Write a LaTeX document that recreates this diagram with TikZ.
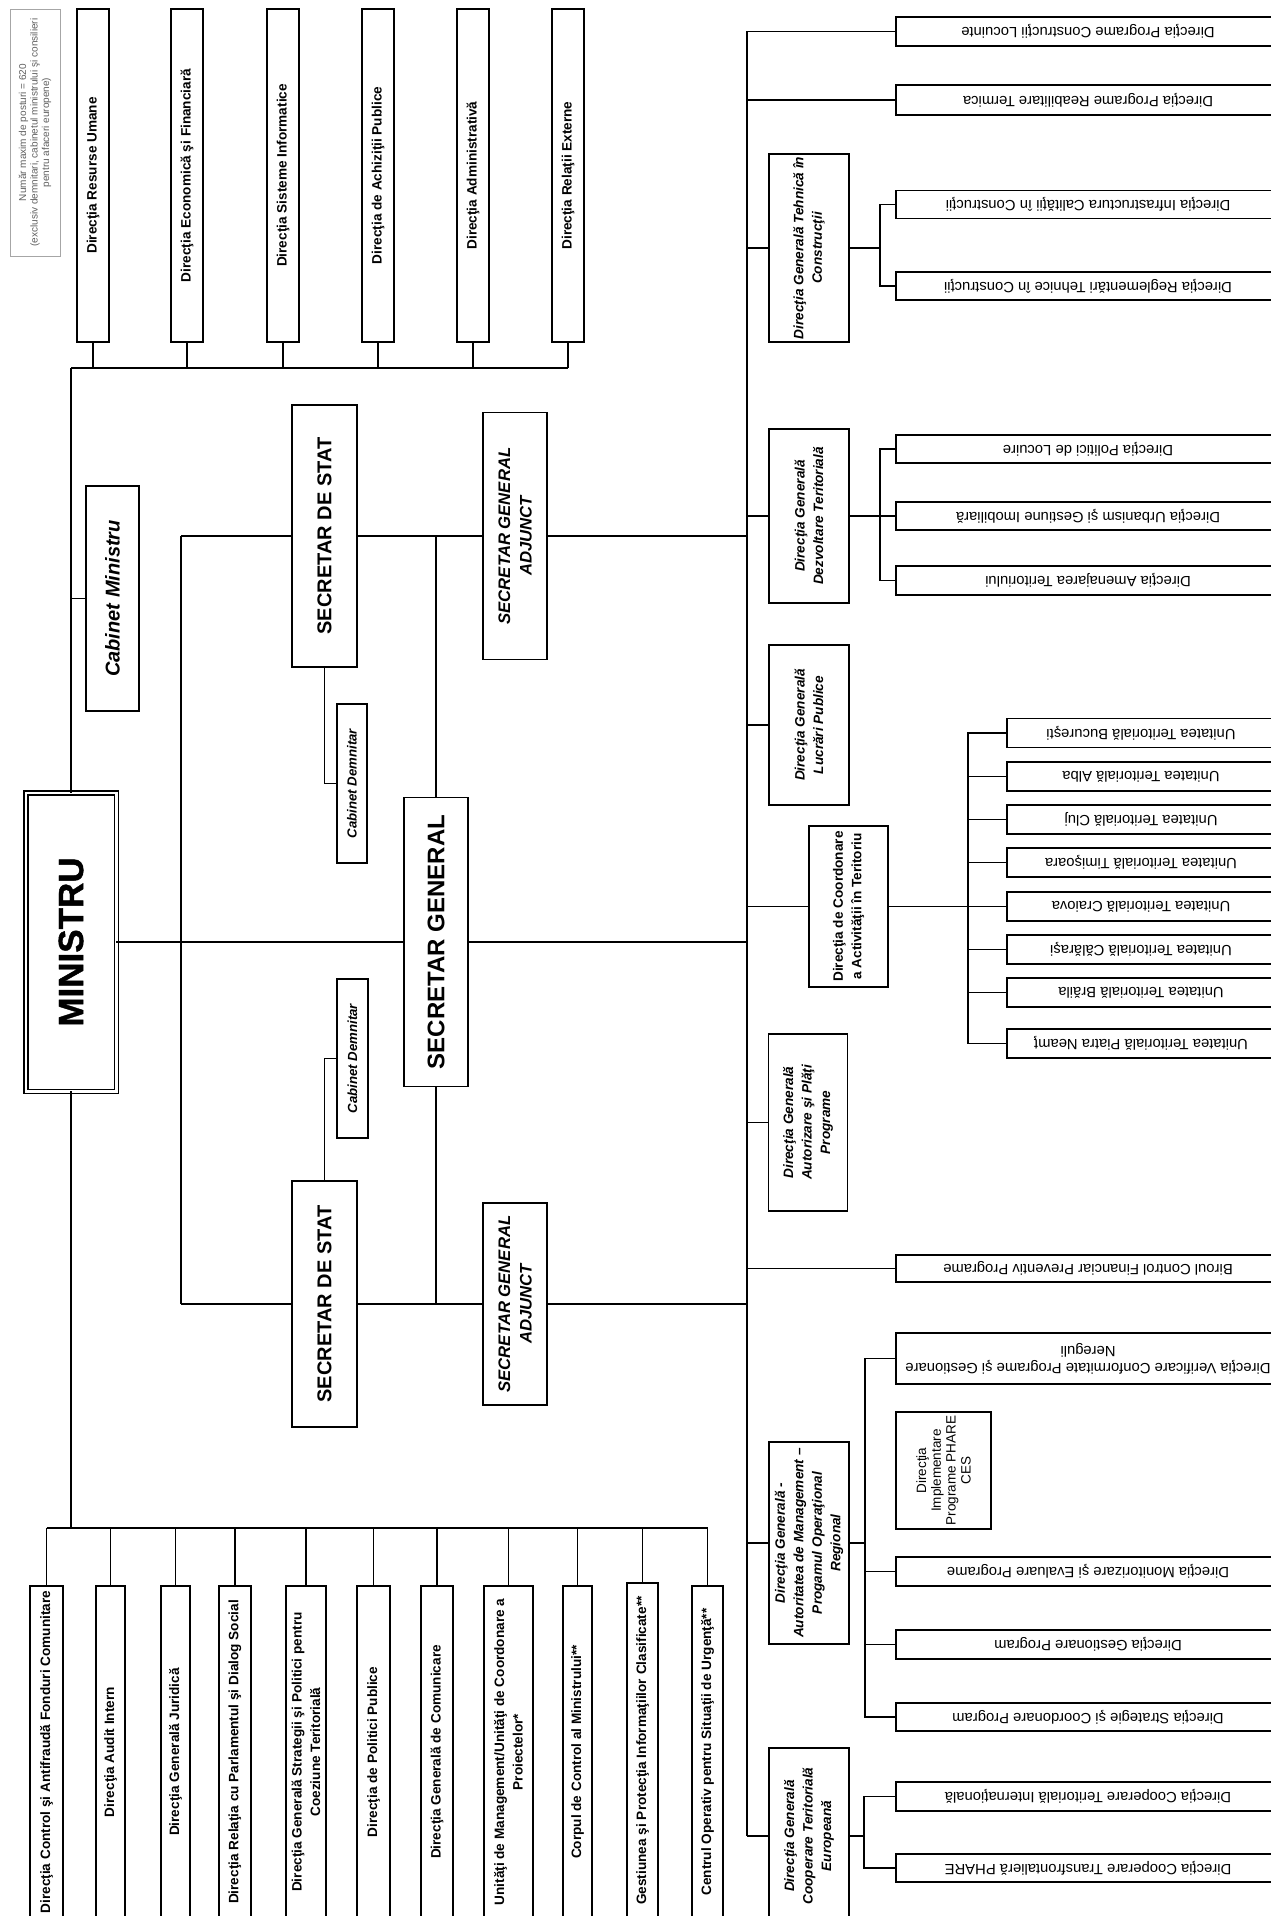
\documentclass[tikz,border=0pt]{standalone}
\usepackage{fontspec}
\setmainfont{Liberation Sans}
\newfontfamily\heavyfont{Liberation Sans}[BoldFeatures={FakeBold=1.2}]
\newcommand\bx[7]{\node[box,minimum width=#4pt,minimum height=#5pt] (#1) at (#2,#3) {};\node[#6] at (#1.center) {#7};}
\begin{document}
\begin{tikzpicture}[x=1pt,y=-1pt,
  box/.style={draw, line width=1.8pt, inner sep=0pt, outer sep=0pt, fill=white},
  ln/.style={line width=1.8pt},
  vt/.style={rotate=90, align=center, inner sep=0pt},
  ut/.style={rotate=180, align=center, inner sep=0pt},
  fb/.style={font=\fontsize{13.6}{18.5}\selectfont\bfseries},
  fbi/.style={font=\fontsize{13.6}{18.5}\selectfont\bfseries\itshape},
  fr/.style={font=\fontsize{14.8}{16.7}\selectfont},
  fsds/.style={font=\fontsize{20}{24}\selectfont\bfseries},
  fsga/.style={font=\fontsize{16.7}{21.5}\selectfont\bfseries\itshape},
  fcd/.style={font=\fontsize{13.2}{15}\selectfont\bfseries\itshape},
]
\fill[white] (0,0) rectangle (1271,1916);
\useasboundingbox (0,0) rectangle (1271,1916);
\clip (0,0) rectangle (1271,1916);

% note
\node[draw=gray!70, line width=0.8pt, minimum width=50pt, minimum height=247pt, inner sep=0pt] (note) at (35,132.5) {};
\node[vt, font=\fontsize{10}{11.5}\selectfont, text=gray!75!black] at (note.center) {Număr maxim de posturi = 620\\(exclusiv demnitari, cabinetul ministrului şi consilieri\\pentru afaceri europene)};

% top row
\bx{t1}{93}{175.5}{32}{333}{vt,fb}{Direcţia Resurse Umane}
\bx{t2}{187}{175.5}{32}{333}{vt,fb}{Direcţia Economică şi Financiară}
\bx{t3}{283}{175.5}{32}{333}{vt,fb}{Direcţia Sisteme Informatice}
\bx{t4}{378}{175.5}{32}{333}{vt,fb}{Direcţia de Achiziţii Publice}
\bx{t5}{473}{175.5}{32}{333}{vt,fb}{Direcţia Administrativă}
\bx{t6}{568}{175.5}{32}{333}{vt,fb}{Direcţia Relaţii Externe}
\coordinate (tb) at (71,368);
\draw[ln] (tb) -- (t6.south |- tb);
\foreach \n in {t1,t2,t3,t4,t5,t6} \draw[ln] (\n.south) -- (\n.south |- tb);

% minister
\node[draw, double, double distance=2.5pt, line width=1.5pt, inner sep=0pt, outer sep=0pt, minimum width=90.5pt, minimum height=298.5pt, fill=white] (min) at (71,942) {};
\node[vt, font=\fontsize{35}{40}\selectfont\heavyfont\bfseries] at (min.center) {MINISTRU};
\coordinate (bb) at (71,1528);
\draw[ln] (tb) -- (min.north);
\draw[ln] (min.south) -- (bb);

\bx{cm}{112.5}{598.5}{53}{225}{vt,font=\fontsize{20}{24}\selectfont\bfseries\itshape}{Cabinet Ministru}
\draw[ln] (cm.west -| tb) -- (cm.west);

% secretary general
\bx{sg}{436}{942}{64}{289}{vt,font=\fontsize{24}{28}\selectfont\bfseries}{SECRETAR GENERAL}
\coordinate (rvT) at (747,31.5);
\coordinate (rvB) at (747,1836);
\draw[ln] (min.east) -- (sg.west);
\draw[ln] (sg.east) -- (sg.east -| rvT);

% upper branch
\bx{sds1}{324.5}{536}{65}{262}{vt,fsds}{SECRETAR DE STAT}
\bx{sga1}{515}{536}{64}{247}{vt,fsga}{SECRETAR GENERAL\\ADJUNCT}
\bx{cd1}{352}{783.5}{30}{159}{vt,fcd}{Cabinet Demnitar}
\coordinate (ul) at (181,536);
\coordinate (ll) at (181,1304);
\draw[ln] (ul) -- (sds1.west);
\draw[ln] (sds1.east) -- (sga1.west);
\draw[ln] (sga1.east) -- (sga1.east -| rvT);
\draw[ln] (ul) -- (ll);
\draw[ln] (sg.north) -- (sg.north |- ul);
\draw[ln] (sds1.south) |- (cd1.west);

% lower branch
\bx{sds2}{324.5}{1304}{65}{246}{vt,fsds}{SECRETAR DE STAT}
\bx{sga2}{515}{1304}{64}{202}{vt,fsga}{SECRETAR GENERAL\\ADJUNCT}
\bx{cd2}{352.5}{1058.5}{31}{159}{vt,fcd}{Cabinet Demnitar}
\draw[ln] (ll) -- (sds2.west);
\draw[ln] (sds2.east) -- (sga2.west);
\draw[ln] (sga2.east) -- (sga2.east -| rvT);
\draw[ln] (sg.south) -- (sg.south |- ll);
\draw[ln] (sds2.north) |- (cd2.west);

% right column
\draw[ln] (rvT) -- (rvB);
\bx{rb1}{1088}{31.5}{384}{29.5}{ut,fr}{Direcţia Programe Construcţii Locuinte}
\bx{rb2}{1088}{100}{384}{29.5}{ut,fr}{Direcţia Programe Reabilitare Termica}
\draw[ln] (rvT) -- (rb1.west);
\draw[ln] (rb2.west -| rvT) -- (rb2.west);

\bx{dgt}{809}{248}{80}{188}{vt,fbi}{Direcţia Generală Tehnică în\\Construcţii}
\bx{ri}{1088}{204.5}{384}{28}{ut,fr}{Direcţia Infrastructura Calităţii în Construcţii}
\bx{rr}{1088}{286}{384}{28}{ut,fr}{Direcţia Reglementări Tehnice în Construcţii}
\coordinate (bt) at (880,248);
\draw[ln] (dgt.west -| rvT) -- (dgt.west);
\draw[ln] (dgt.east) -- (bt);
\draw[ln] (ri.west) -| (bt) |- (rr.west);

\bx{dgd}{809}{516}{80}{174}{vt,fbi}{Direcţia Generală\\Dezvoltare Teritorială}
\bx{rp}{1088}{449}{384}{28.5}{ut,fr}{Direcţia Politici de Locuire}
\bx{ru}{1088}{516}{384}{28.5}{ut,fr}{Direcţia Urbanism şi Gestiune Imobiliară}
\bx{ra}{1088}{580.5}{384}{28.5}{ut,fr}{Direcţia Amenajarea Teritoriului}
\coordinate (bd) at (880,516);
\draw[ln] (dgd.west -| rvT) -- (dgd.west);
\draw[ln] (dgd.east) -- (ru.west);
\draw[ln] (rp.west) -| (bd) |- (ra.west);

\bx{dgl}{809}{725}{80}{160}{vt,fbi}{Direcţia Generală\\Lucrări Publice}
\draw[ln] (dgl.west -| rvT) -- (dgl.west);

\bx{dcat}{848.5}{906.5}{79}{161}{vt,fb}{Direcţia de Coordonare\\a Activităţii în Teritoriu}
\draw[ln] (dcat.west -| rvT) -- (dcat.west);
\bx{u1}{1141}{733}{268}{29}{ut,fr}{Unitatea Teritorială Bucureşti}
\bx{u2}{1141}{776.5}{268}{29}{ut,fr}{Unitatea Teritorială Alba}
\bx{u3}{1141}{819.5}{268}{29}{ut,fr}{Unitatea Teritorială Cluj}
\bx{u4}{1141}{862.5}{268}{29}{ut,fr}{Unitatea Teritorială Timişoara}
\bx{u5}{1141}{906.5}{268}{29}{ut,fr}{Unitatea Teritorială Craiova}
\bx{u6}{1141}{949.5}{268}{29}{ut,fr}{Unitatea Teritorială Călăraşi}
\bx{u7}{1141}{992.5}{268}{29}{ut,fr}{Unitatea Teritorială Brăila}
\bx{u8}{1141}{1043.5}{268}{29}{ut,fr}{Unitatea Teritorială Piatra Neamţ}
\coordinate (bu) at (968,906.5);
\draw[ln] (dcat.east) -- (u5.west);
\draw[ln] (u1.west) -| (bu) |- (u8.west);
\foreach \n in {u2,u3,u4,u6,u7} \draw[ln] (\n.west) -- (\n.west -| bu);

\bx{dga}{808}{1122.5}{79}{177}{vt,fbi}{Direcţia Generală\\Autorizare şi Plăţi\\Programe}
\draw[ln] (dga.west -| rvT) -- (dga.west);

\bx{rbi}{1088}{1268.5}{384}{27}{ut,fr}{Biroul Control Financiar Preventiv Programe}
\draw[ln] (rbi.west -| rvT) -- (rbi.west);

\bx{dgm}{809}{1543}{80}{202}{vt,fbi}{Direcţia Generală -\\Autoritatea de Management –\\Progamul Operaţional\\Regional}
\bx{rv}{1088}{1358.5}{384}{51}{ut,fr}{Direcţia Verificare Conformitate Programe şi Gestionare\\Nereguli}
\bx{phare}{943.5}{1470.5}{95}{117}{vt,font=\fontsize{13.5}{14.8}\selectfont}{Direcţia\\Implementare\\Programe PHARE\\CES}
\bx{rm}{1088}{1571.5}{384}{29}{ut,fr}{Direcţia Monitorizare şi Evaluare Programe}
\bx{rg}{1088}{1644.5}{384}{29}{ut,fr}{Direcţia Gestionare Program}
\bx{rs}{1088}{1717}{384}{28.5}{ut,fr}{Direcţia Strategie şi Coordonare Program}
\coordinate (bm) at (865,1543);
\draw[ln] (dgm.west -| rvT) -- (dgm.west);
\draw[ln] (dgm.east) -- (bm);
\draw[ln] (rv.west) -| (bm) |- (rs.west);
\foreach \n in {rm,rg} \draw[ln] (\n.west) -- (\n.west -| bm);

\bx{dgc}{809}{1836}{80}{176}{vt,fbi}{Direcţia Generală\\Cooperare Teritorială\\Europeană}
\bx{rci}{1088}{1796.5}{384}{29}{ut,fr}{Direcţia Cooperare Teritorială Internaţională}
\bx{rct}{1088}{1868}{384}{28.5}{ut,fr}{Direcţia Cooperare Transfrontalieră PHARE}
\coordinate (bc) at (864,1836);
\draw[ln] (rvB) -- (dgc.west);
\draw[ln] (dgc.east) -- (bc);
\draw[ln] (rci.west) -| (bc) |- (rct.west);

% bottom row
\bx{b1}{46.5}{1752}{33}{332}{vt,fb}{Direcţia Control şi Antifraudă Fonduri Comunitare}
\bx{b2}{110.5}{1752}{29}{332}{vt,fb}{Direcţia Audit Intern}
\bx{b3}{175.5}{1752}{29}{332}{vt,fb}{Direcţia Generală Juridică}
\bx{b4}{235}{1752}{32}{332}{vt,fb}{Direcţia Relaţia cu Parlamentul şi Dialog Social}
\bx{b5}{306}{1752}{40}{332}{vt,fb}{Direcţia Generală Strategii şi Politici pentru\\Coeziune Teritorială}
\bx{b6}{373.5}{1752}{33}{332}{vt,fb}{Direcţia de Politici Publice}
\bx{b7}{437}{1752}{32}{332}{vt,fb}{Direcţia Generală de Comunicare}
\bx{b8}{508.5}{1752}{49}{332}{vt,fb}{Unităţi de Management/Unităţi de Coordonare a\\Proiectelor*}
\bx{b9}{577.5}{1752}{29}{332}{vt,fb}{Corpul de Control al Ministrului**}
\bx{b10}{642.5}{1750.5}{31}{335}{vt,fb}{Gestiunea şi Protecţia Informaţiilor Clasificate**}
\bx{b11}{707.5}{1752}{31}{332}{vt,fb}{Centrul Operativ pentru Situaţii de Urgenţă**}
\draw[ln] (b1.north |- bb) -- (b11.north |- bb);
\foreach \n in {b1,b2,b3,b4,b5,b6,b7,b8,b9,b10,b11} \draw[ln] (\n.north) -- (\n.north |- bb);
\end{tikzpicture}
\end{document}
